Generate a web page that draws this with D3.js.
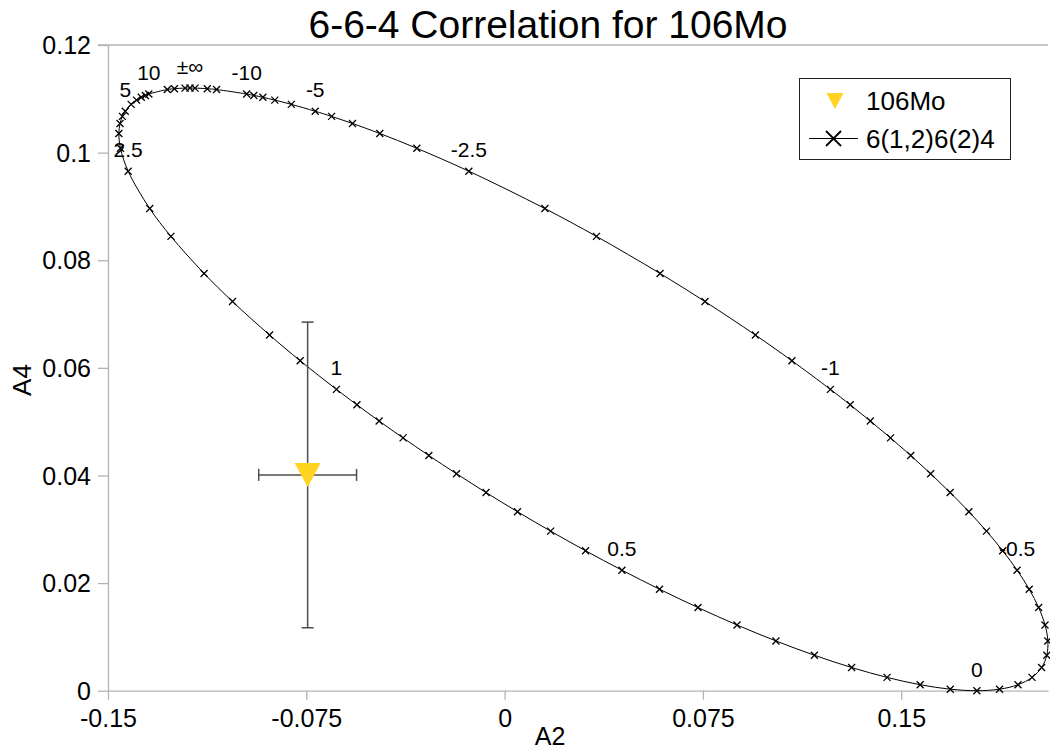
<!DOCTYPE html>
<html>
<head>
<meta charset="utf-8">
<script src="https://cdn.jsdelivr.net/npm/d3@7"></script>
<style>
  html, body { margin: 0; padding: 0; background: #fff; }
  svg text { font-family: "Liberation Sans", Arial, sans-serif; fill: #000; }
</style>
</head>
<body>
<div id="chart"></div>
<script>
(function () {
    "use strict";

    // mixing ratio of each point on the 6(1,2)6(2)4 curve, in drawing order
    var deltas = ["-100", "-30", "-20", "-10", "-9", "-8", "-7", "-6", "-5", "-4.5", "-4", "-3.5", "-3", "-2.5",
        "-2", "-1.75", "-1.5", "-1.35", "-1.2", "-1.1", "-1", "-0.95", "-0.9", "-0.85", "-0.8", "-0.75", "-0.7",
        "-0.65", "-0.6", "-0.55", "-0.5", "-0.45", "-0.4", "-0.35", "-0.3", "-0.25", "-0.2", "-0.15", "-0.1",
        "-0.05", "0", "0.05", "0.1", "0.15", "0.2", "0.25", "0.3", "0.35", "0.4", "0.45", "0.5", "0.55", "0.6",
        "0.65", "0.7", "0.75", "0.8", "0.85", "0.9", "0.95", "1", "1.1", "1.2", "1.35", "1.5", "1.75", "2",
        "2.5", "3", "3.5", "4", "4.5", "5", "6", "7", "8", "9", "10", "20", "30", "100", "±∞"];

    var curveA2 = [-0.1171, -0.11245, -0.10894, -0.09756, -0.09487, -0.09143, -0.0869, -0.08066, -0.07163,
        -0.06544, -0.05754, -0.0472, -0.0332, -0.01354, 0.01524, 0.03473, 0.05878, 0.07578, 0.09484, 0.10864,
        0.1232, 0.1307, 0.1383, 0.14595, 0.15359, 0.16113, 0.16849, 0.17557, 0.18224, 0.18836, 0.1938, 0.19839,
        0.20197, 0.20437, 0.20544, 0.20505, 0.20308, 0.19945, 0.19415, 0.18717, 0.1786, 0.16854, 0.15716,
        0.14465, 0.13123, 0.11714, 0.10261, 0.08788, 0.07314, 0.05858, 0.04436, 0.0306, 0.01741, 0.00485,
        -0.00703, -0.0182, -0.02866, -0.03841, -0.04746, -0.05585, -0.0636, -0.07732, -0.0889, -0.10291,
        -0.11365, -0.1262, -0.1342, -0.14237, -0.14528, -0.14589, -0.14545, -0.14456, -0.14348, -0.14125,
        -0.1392, -0.13741, -0.13587, -0.13455, -0.12757, -0.12489, -0.12084, -0.119];

    var curveA4 = [0.11199, 0.11188, 0.11172, 0.11089, 0.11063, 0.11028, 0.10976, 0.10897, 0.10769, 0.10673,
        0.10541, 0.10355, 0.1008, 0.09655, 0.0896, 0.08443, 0.07754, 0.07232, 0.0661, 0.06132, 0.056, 0.05313,
        0.05012, 0.04698, 0.04371, 0.04032, 0.03683, 0.03327, 0.02965, 0.02601, 0.0224, 0.01886, 0.01545,
        0.01222, 0.00925, 0.00659, 0.00431, 0.00247, 0.00111, 0.00028, 0, 0.00028, 0.00111, 0.00247, 0.00431,
        0.00659, 0.00925, 0.01222, 0.01545, 0.01886, 0.0224, 0.02601, 0.02965, 0.03327, 0.03683, 0.04032,
        0.04371, 0.04698, 0.05012, 0.05313, 0.056, 0.06132, 0.0661, 0.07232, 0.07754, 0.08443, 0.0896, 0.09655,
        0.1008, 0.10355, 0.10541, 0.10673, 0.10769, 0.10897, 0.10976, 0.11028, 0.11063, 0.11089, 0.11172,
        0.11188, 0.11199, 0.112];

    // which mixing ratios get a text label
    var labelledDeltas = ["0", "0.5", "1", "2.5", "5", "10", "±∞", "-10", "-5", "-2.5", "-1", "-0.5"];

    // measured point for 106Mo
    var expA2 = [-0.0745];
    var expA4 = [0.0401];
    var expA2Err = [0.0185];
    var expA4Err = [0.0284];

    var xTicks = [-0.15, -0.075, 0, 0.075, 0.15];
    var xTickLabels = ["-0.15", "-0.075", "0", "0.075", "0.15"];
    var yTicks = [0, 0.02, 0.04, 0.06, 0.08, 0.1, 0.12];
    var yTickLabels = ["0", "0.02", "0.04", "0.06", "0.08", "0.1", "0.12"];

    var W = 1050, H = 751;
    var left = 108, right = 1048, top = 45, bottom = 690.7;
    var axisColor = "#b3b3b3";
    var gold = "#ffd320";

    var svg = d3.select("#chart").append("svg")
        .attr("width", W)
        .attr("height", H);

    var x = d3.scaleLinear().domain([-0.15, 0.2055]).range([left, right]);
    var y = d3.scaleLinear().domain([0, 0.12]).range([bottom, top]);

    // title
    svg.append("text")
        .attr("x", 548)
        .attr("y", 38)
        .attr("text-anchor", "middle")
        .style("font-size", "39px")
        .text("6-6-4 Correlation for 106Mo");

    // axes
    var xAxis = d3.axisBottom(x).tickValues(xTicks)
        .tickFormat(function (d, i) { return xTickLabels[i]; })
        .tickSize(9).tickSizeOuter(0);
    var gx = svg.append("g").attr("transform", "translate(0," + bottom + ")").call(xAxis);

    var yAxis = d3.axisLeft(y).tickValues(yTicks)
        .tickFormat(function (d, i) { return yTickLabels[i]; })
        .tickSize(10).tickSizeOuter(0);
    var gy = svg.append("g").attr("transform", "translate(" + left + ",0)").call(yAxis);

    [gx, gy].forEach(function (g) {
        g.selectAll("path, line").attr("stroke", axisColor).attr("stroke-width", 1.3);
        g.selectAll("text")
            .style("font-family", "'Liberation Sans', Arial, sans-serif")
            .style("font-size", "25px")
            .attr("fill", "#000");
    });
    gx.selectAll("text").attr("dy", "0").attr("y", 36);
    gy.selectAll("text").attr("x", -17).attr("dy", "0.35em");

    // line along the top of the plot
    svg.append("line")
        .attr("x1", left - 10).attr("x2", right)
        .attr("y1", y(0.12)).attr("y2", y(0.12))
        .attr("stroke", axisColor).attr("stroke-width", 1.3);

    // axis titles
    svg.append("text")
        .attr("x", 550).attr("y", 745)
        .attr("text-anchor", "middle")
        .style("font-size", "25px")
        .text("A2");
    svg.append("text")
        .attr("transform", "translate(31,380) rotate(-90)")
        .attr("text-anchor", "middle")
        .style("font-size", "26px")
        .text("A4");

    // theory curve
    var pts = deltas.map(function (d, i) { return { delta: d, a2: curveA2[i], a4: curveA4[i] }; });

    var line = d3.line()
        .x(function (d) { return x(d.a2); })
        .y(function (d) { return y(d.a4); })
        .curve(d3.curveCatmullRomClosed);

    svg.append("path")
        .datum(pts)
        .attr("d", line)
        .attr("fill", "none")
        .attr("stroke", "#000")
        .attr("stroke-width", 1);

    // delta labels
    svg.selectAll("text.delta")
        .data(pts.filter(function (d) { return labelledDeltas.indexOf(d.delta) > -1; }))
        .enter()
        .append("text")
        .attr("class", "delta")
        .attr("x", function (d) { return x(d.a2); })
        .attr("y", function (d) { return y(d.a4) - 14; })
        .attr("text-anchor", "middle")
        .style("font-size", "21px")
        .text(function (d) { return d.delta; });

    // x markers
    var s = 3.5;
    svg.selectAll("path.mark")
        .data(pts)
        .enter()
        .append("path")
        .attr("class", "mark")
        .attr("d", function (d) {
            var cx = x(d.a2), cy = y(d.a4);
            return "M" + (cx - s) + "," + (cy - s) + "L" + (cx + s) + "," + (cy + s) +
                "M" + (cx - s) + "," + (cy + s) + "L" + (cx + s) + "," + (cy - s);
        })
        .attr("stroke", "#000")
        .attr("stroke-width", 1.3)
        .attr("fill", "none");

    // 106Mo point with error bars
    var cap = 6;
    var errColor = "#4d4d4d";
    expA2.forEach(function (v, i) {
        var cx = x(v), cy = y(expA4[i]);
        var g = svg.append("g");
        g.append("line")
            .attr("x1", cx).attr("x2", cx)
            .attr("y1", y(expA4[i] + expA4Err[i])).attr("y2", y(expA4[i] - expA4Err[i]))
            .attr("stroke", errColor).attr("stroke-width", 1.5);
        g.append("line")
            .attr("x1", x(v - expA2Err[i])).attr("x2", x(v + expA2Err[i]))
            .attr("y1", cy).attr("y2", cy)
            .attr("stroke", errColor).attr("stroke-width", 1.5);
        [y(expA4[i] + expA4Err[i]), y(expA4[i] - expA4Err[i])].forEach(function (yy) {
            g.append("line").attr("x1", cx - cap).attr("x2", cx + cap).attr("y1", yy).attr("y2", yy)
                .attr("stroke", errColor).attr("stroke-width", 1.5);
        });
        [x(v - expA2Err[i]), x(v + expA2Err[i])].forEach(function (xx) {
            g.append("line").attr("x1", xx).attr("x2", xx).attr("y1", cy - cap).attr("y2", cy + cap)
                .attr("stroke", errColor).attr("stroke-width", 1.5);
        });
        g.append("path")
            .attr("d", "M" + (cx - 13) + "," + (cy - 12) + "L" + (cx + 13) + "," + (cy - 12) + "L" + cx + "," + (cy + 12) + "Z")
            .attr("fill", gold);
    });

    // legend
    var lg = svg.append("g");
    lg.append("rect")
        .attr("x", 799.5).attr("y", 78.5)
        .attr("width", 211).attr("height", 81)
        .attr("fill", "#fff").attr("stroke", "#222").attr("stroke-width", 1);
    lg.append("path")
        .attr("d", "M826.5,93L843.5,93L835,109Z")
        .attr("fill", gold);
    lg.append("text")
        .attr("x", 866).attr("y", 110)
        .style("font-size", "26px")
        .text("106Mo");
    lg.append("line")
        .attr("x1", 809).attr("x2", 858).attr("y1", 138.5).attr("y2", 138.5)
        .attr("stroke", "#000").attr("stroke-width", 1);
    lg.append("path")
        .attr("d", "M826,131L841,146M826,146L841,131")
        .attr("stroke", "#000").attr("stroke-width", 1.8);
    lg.append("text")
        .attr("x", 866).attr("y", 148)
        .style("font-size", "26px")
        .text("6(1,2)6(2)4");
})();
</script>
</body>
</html>
